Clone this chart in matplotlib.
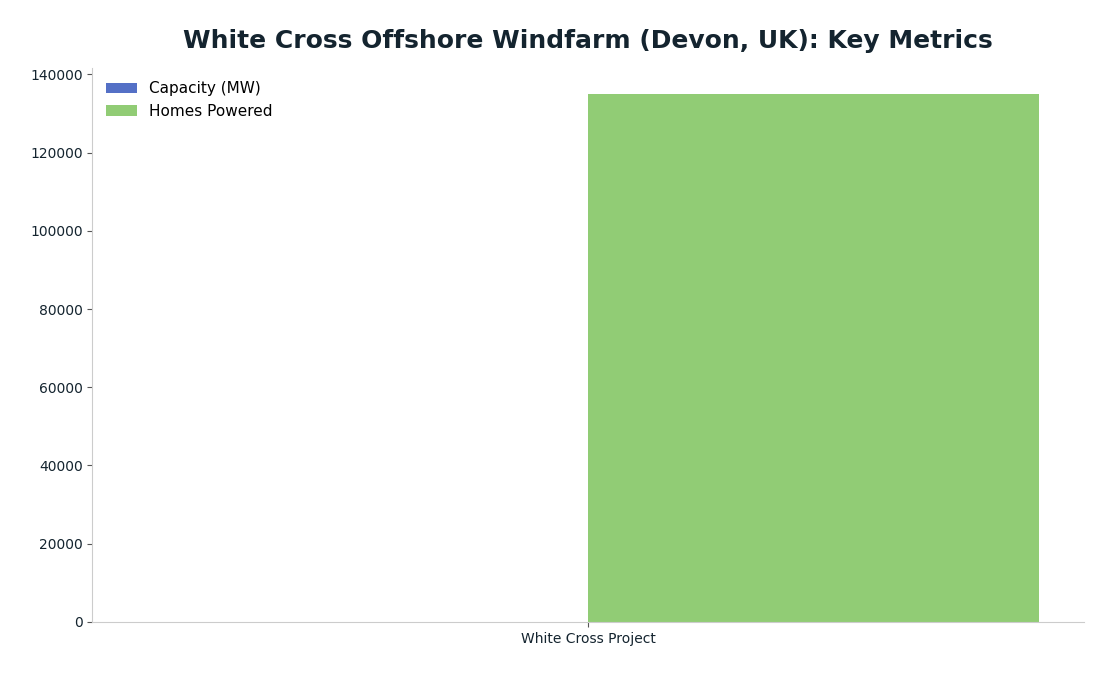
import matplotlib.pyplot as plt
import numpy as np

categories = ["White Cross Project"]
capacity_mw = [100]
homes_powered = [135000]

x = np.arange(len(categories))
width = 0.4

fig, ax = plt.subplots(figsize=(11.14, 6.76), dpi=100)
ax.bar(x - width / 2, capacity_mw, width, color="#5470c6", label="Capacity (MW)")
ax.bar(x + width / 2, homes_powered, width, color="#91cc75", label="Homes Powered")

ax.set_xticks(x)
ax.set_xticklabels(categories)
ax.set_title("White Cross Offshore Windfarm (Devon, UK): Key Metrics",
             fontsize=18, fontweight="bold", color="#14242f", pad=14)

for s in ["top", "right"]:
    ax.spines[s].set_visible(False)
for s in ["left", "bottom"]:
    ax.spines[s].set_color("#cccccc")
ax.tick_params(colors="#14242f", labelsize=10)
ax.tick_params(axis="both", color="#555555")

ax.legend(frameon=False, fontsize=11, loc="upper left")

plt.subplots_adjust(left=0.083, right=0.973, top=0.9, bottom=0.08)
plt.savefig("out.png")
